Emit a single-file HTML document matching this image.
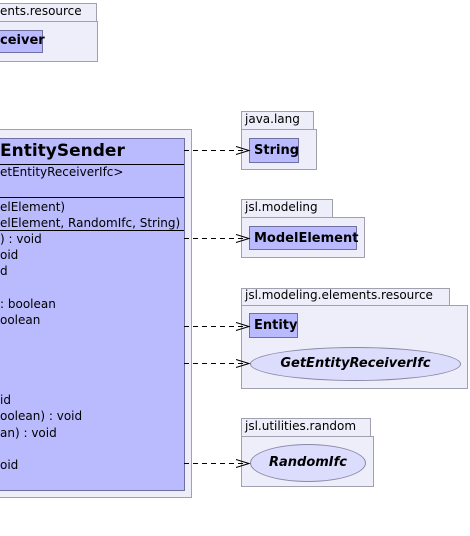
<!DOCTYPE html>
<html><head><style>
body{margin:0;width:470px;height:536px;background:#fff;position:relative;overflow:hidden;font-family:"DejaVu Sans","Liberation Sans",sans-serif;font-size:12px;color:#000}
.p{position:absolute;background:#eeeefa;border:1px solid #a0a0b0;box-sizing:border-box}
.c{position:absolute;background:#babafe;border:1px solid #7070a0;box-sizing:border-box;font-weight:bold;font-size:13px;padding:4px 0 0 4px}
.t{position:absolute;white-space:nowrap}
.e{position:absolute;background:#dcdcfc;border:1px solid #8888a8;border-radius:50%;box-sizing:border-box;text-align:center;font-weight:bold;font-style:italic;font-size:13px}
</style></head><body>
<div class="p" style="left:-10px;top:3px;width:107px;height:19px"></div>
<div class="t" style="left:0;top:4px">ents.resource</div>
<div class="p" style="left:-10px;top:21px;width:108px;height:41px"></div>
<div class="c" style="left:-10px;top:30px;width:53px;height:23px;padding:0"></div>
<div class="t" style="left:0;top:33px;font-weight:bold;font-size:13px">ceiver</div>

<div class="p" style="left:-10px;top:129px;width:202px;height:369px"></div>
<div class="c" style="left:-10px;top:138px;width:195px;height:353px;padding:0"></div>
<div class="t" style="left:0;top:141px;font-weight:bold;font-size:17px">EntitySender</div>
<div style="position:absolute;left:0;top:164px;width:184px;height:1px;background:#000"></div>
<div class="t" style="left:0;top:165px">etEntityReceiverIfc&gt;</div>
<div style="position:absolute;left:0;top:197px;width:184px;height:1px;background:#000"></div>
<div class="t" style="left:0;top:200px">elElement)</div>
<div class="t" style="left:0;top:216px">elElement, RandomIfc, String)</div>
<div style="position:absolute;left:0;top:230px;width:184px;height:1px;background:#000"></div>
<div class="t" style="left:0;top:232px">) : void</div>
<div class="t" style="left:0;top:248px">oid</div>
<div class="t" style="left:0;top:264px">d</div>
<div class="t" style="left:0;top:297px">: boolean</div>
<div class="t" style="left:0;top:313px">oolean</div>
<div class="t" style="left:0;top:393px">id</div>
<div class="t" style="left:0;top:409px">oolean) : void</div>
<div class="t" style="left:0;top:426px">an) : void</div>
<div class="t" style="left:0;top:458px">oid</div>

<div class="p" style="left:241px;top:111px;width:73px;height:19px"></div>
<div class="t" style="left:245px;top:112px">java.lang</div>
<div class="p" style="left:241px;top:129px;width:76px;height:41px"></div>
<div class="c" style="left:249px;top:138px;width:50px;height:25px">String</div>

<div class="p" style="left:241px;top:199px;width:92px;height:19px"></div>
<div class="t" style="left:245px;top:200px">jsl.modeling</div>
<div class="p" style="left:241px;top:217px;width:124px;height:41px"></div>
<div class="c" style="left:249px;top:226px;width:108px;height:24px">ModelElement</div>

<div class="p" style="left:241px;top:288px;width:209px;height:18px"></div>
<div class="t" style="left:245px;top:288px">jsl.modeling.elements.resource</div>
<div class="p" style="left:241px;top:305px;width:227px;height:84px"></div>
<div class="c" style="left:249px;top:313px;width:49px;height:25px">Entity</div>
<div class="e" style="left:250px;top:347px;width:211px;height:34px;line-height:32px">GetEntityReceiverIfc</div>

<div class="p" style="left:241px;top:418px;width:130px;height:19px"></div>
<div class="t" style="left:245px;top:419px">jsl.utilities.random</div>
<div class="p" style="left:241px;top:436px;width:133px;height:51px"></div>
<div class="e" style="left:250px;top:444px;width:116px;height:38px;line-height:36px">RandomIfc</div>

<svg style="position:absolute;left:0;top:0" width="470" height="536">
<g stroke="#000" fill="none" stroke-width="1">
<path d="M184 150.5H248M184 238.5H248M184 326.5H248M184 363.5H248M184 463.5H248" stroke-dasharray="5,4"/>
<path d="M236 146.5L249 150.5L236 154.5M236 234.5L249 238.5L236 242.5M236 322.5L249 326.5L236 330.5M236 359.5L249 363.5L236 367.5M236 459.5L249 463.5L236 467.5"/>
</g></svg>
</body></html>
